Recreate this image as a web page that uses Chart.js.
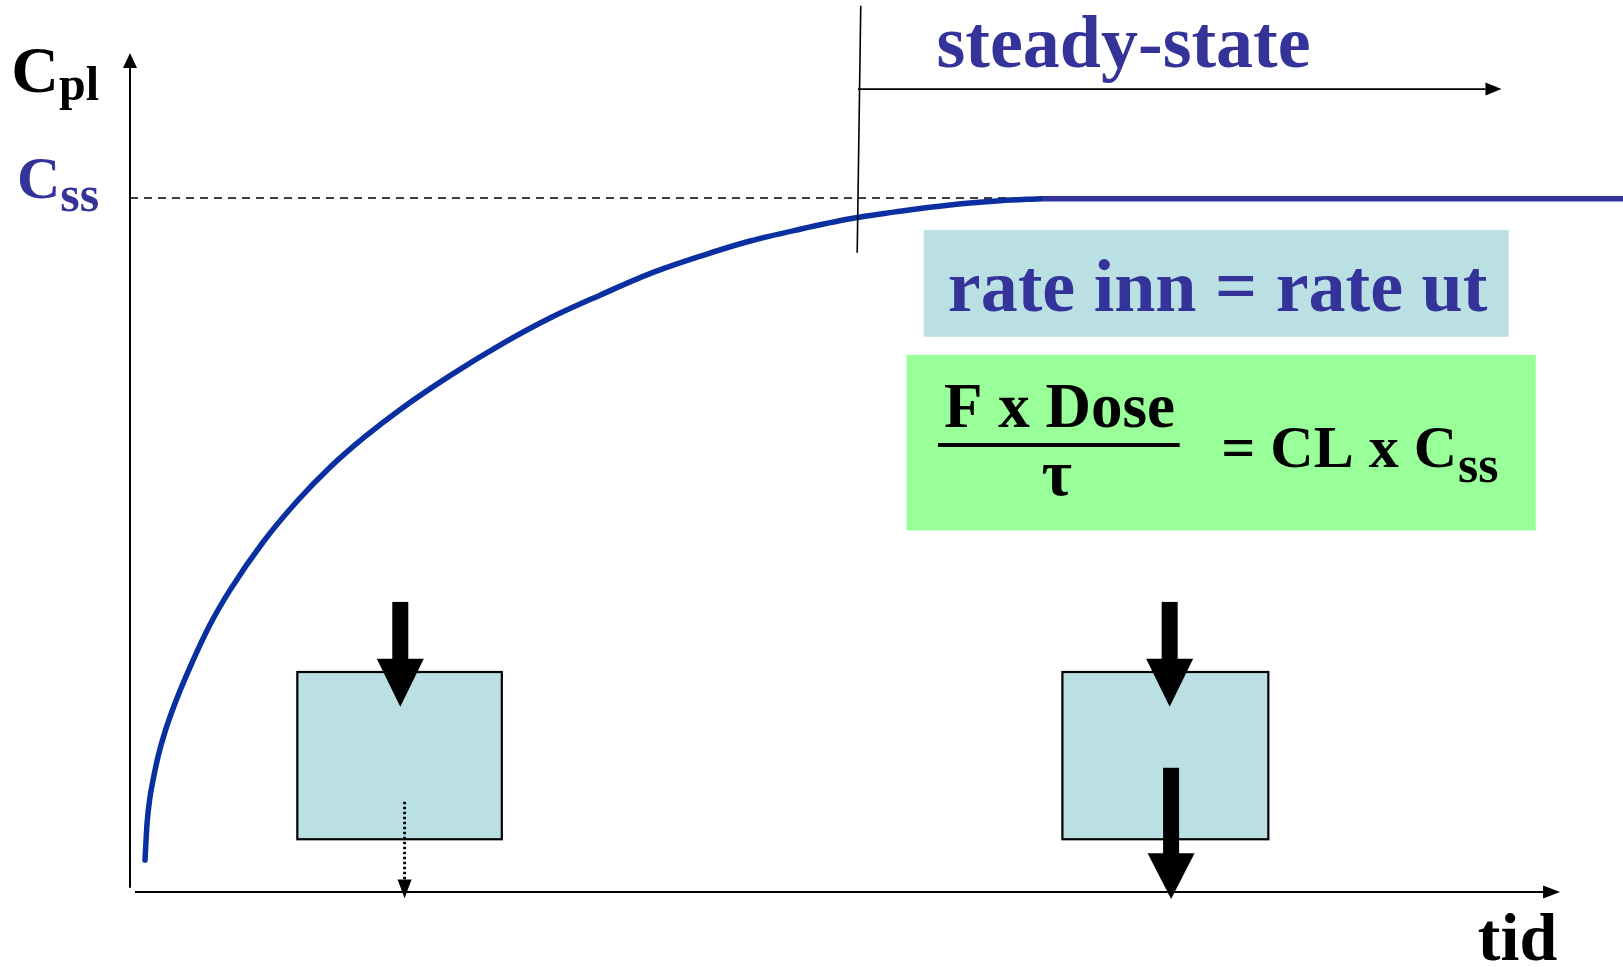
<!DOCTYPE html>
<html>
<head>
<meta charset="utf-8">
<script src="https://cdn.jsdelivr.net/npm/chart.js@4/dist/chart.umd.min.js"></script>
<style>
  html, body { margin: 0; padding: 0; background: #fff; }
  #wrap { position: relative; width: 1623px; height: 967px; }
</style>
</head>
<body>
<div id="wrap"><canvas id="ssChart"></canvas></div>
<script>
// accumulation curve (time units, % of Css)
const timeH = [1.05, 1.19, 1.4, 1.61, 1.96, 2.45, 3.15, 4.2, 5.59, 6.99, 9.3, 11.68, 13.99,
  16.43, 18.88, 22.38, 25.87, 29.37, 32.87, 36.36, 39.86, 43.36, 46.85, 50.35, 53.85,
  57.34, 60.84, 63.64];
const concPct = [4.6, 9.8, 13.7, 16.1, 19.5, 23.1, 27.2, 32.4, 38.5, 43.5, 50.4, 56.3, 61.2,
  65.6, 69.5, 74.4, 78.8, 82.7, 86.0, 89.1, 91.6, 93.8, 95.5, 97.0, 98.1,
  99.0, 99.6, 99.9];
// plateau after steady state is reached
const steadyTime = [63.64, 104.4];
const steadyConc = [99.9, 99.9];
// Css reference level (dashed)
const cssTime = [0, 62];
const cssConc = [100, 100];

const BLUE = "#0a2fa0";
const NAVY = "#333399";
const BOXBLUE = "#bbe0e3";
const GREEN = "#99ff99";
const SERIF = "'Liberation Serif', 'Times New Roman', serif";

function toPoints(xs, ys) {
  return xs.map((x, i) => ({ x: x, y: ys[i] }));
}

// all diagram furniture, placed in data units through the scales
const diagram = {
  id: "diagram",
  beforeDatasetsDraw(chart) {
    const ctx = chart.ctx;
    const X = (t) => chart.scales.x.getPixelForValue(t);
    const Y = (c) => chart.scales.y.getPixelForValue(c);
    ctx.save();
    ctx.strokeStyle = "#000";
    ctx.fillStyle = "#000";
    ctx.lineWidth = 2;
    // y axis
    lineArrow(ctx, X(0), Y(0.6), X(0), Y(120.9), 15, 7);
    // x axis
    lineArrow(ctx, X(0.35), Y(0), X(100), Y(0), 17, 6.5);
    ctx.restore();
  },
  afterDatasetsDraw(chart) {
    const ctx = chart.ctx;
    const X = (t) => chart.scales.x.getPixelForValue(t);
    const Y = (c) => chart.scales.y.getPixelForValue(c);
    ctx.save();

    // steady-state marker and arrow
    ctx.strokeStyle = "#000";
    ctx.fillStyle = "#000";
    ctx.lineWidth = 1.6;
    ctx.beginPath();
    ctx.moveTo(X(51.1), Y(127.7));
    ctx.lineTo(X(50.85), Y(92.1));
    ctx.stroke();
    ctx.lineWidth = 1.8;
    lineArrow(ctx, X(50.9), Y(115.7), X(95.9), Y(115.7), 16, 6.5);
    text(ctx, "steady-state", X(56.4), Y(118.9), 74, NAVY, "left");

    // rate inn = rate ut
    ctx.fillStyle = BOXBLUE;
    ctx.fillRect(X(55.5), Y(95.4), X(96.4) - X(55.5), Y(80.0) - Y(95.4));
    text(ctx, "rate inn = rate ut", X(76.05), Y(83.7), 74, NAVY, "center");

    // F x Dose / tau = CL x Css
    ctx.fillStyle = GREEN;
    ctx.fillRect(X(54.3), Y(77.4), X(98.3) - X(54.3), Y(52.1) - Y(77.4));
    text(ctx, "F x Dose", X(65.0), Y(67.0), 63, "#000", "center");
    ctx.strokeStyle = "#000";
    ctx.lineWidth = 4;
    ctx.beginPath();
    ctx.moveTo(X(56.5), Y(64.4));
    ctx.lineTo(X(73.4), Y(64.4));
    ctx.stroke();
    text(ctx, "τ", X(64.8), Y(57.2), 66, "#000", "center");
    const w = text(ctx, "= CL x C", X(76.3), Y(61.3), 60, "#000", "left");
    text(ctx, "ss", X(76.3) + w + 1, Y(59.1), 52, "#000", "left");

    // compartments
    [[11.7, 26.0], [65.2, 79.6]].forEach(([a, b]) => {
      ctx.fillStyle = BOXBLUE;
      ctx.fillRect(X(a), Y(31.7), X(b) - X(a), Y(7.6) - Y(31.7));
      ctx.strokeStyle = "#000";
      ctx.lineWidth = 2.2;
      ctx.strokeRect(X(a), Y(31.7), X(b) - X(a), Y(7.6) - Y(31.7));
    });

    // dose arrows in, elimination arrows out
    ctx.fillStyle = "#000";
    blockArrow(ctx, X(18.9), Y(41.8), Y(33.6), Y(26.7), 16, 47);
    blockArrow(ctx, X(72.7), Y(41.8), Y(33.6), Y(26.7), 16, 47);
    blockArrow(ctx, X(72.8), Y(17.9), Y(5.6), Y(-1.0), 16, 47);
    ctx.strokeStyle = "#000";
    ctx.lineWidth = 2.8;
    ctx.setLineDash([2.5, 2.5]);
    ctx.beginPath();
    ctx.moveTo(X(19.2), Y(13.0));
    ctx.lineTo(X(19.2), Y(1.2));
    ctx.stroke();
    ctx.setLineDash([]);
    ctx.beginPath();
    ctx.moveTo(X(19.2) - 7, Y(1.8));
    ctx.lineTo(X(19.2) + 7, Y(1.8));
    ctx.lineTo(X(19.2), Y(-0.9));
    ctx.closePath();
    ctx.fill();

    // axis labels
    const cw = text(ctx, "C", X(-8.3), Y(115.3), 66, "#000", "left");
    text(ctx, "pl", X(-8.3) + cw, Y(114.1), 48, "#000", "left");
    const sw = text(ctx, "C", X(-7.9), Y(100), 60, NAVY, "left");
    text(ctx, "ss", X(-7.9) + sw, Y(98.1), 50, NAVY, "left");
    text(ctx, "tid", X(99.8), Y(-9.8), 68, "#000", "right");

    ctx.restore();
  },
};

function text(ctx, s, x, y, size, color, align) {
  ctx.font = "bold " + size + "px " + SERIF;
  ctx.fillStyle = color;
  ctx.textAlign = align;
  ctx.textBaseline = "alphabetic";
  ctx.fillText(s, x, y);
  return ctx.measureText(s).width;
}

function lineArrow(ctx, x1, y1, x2, y2, len, half) {
  const ang = Math.atan2(y2 - y1, x2 - x1);
  const bx = x2 - len * Math.cos(ang);
  const by = y2 - len * Math.sin(ang);
  ctx.beginPath();
  ctx.moveTo(x1, y1);
  ctx.lineTo(bx, by);
  ctx.stroke();
  ctx.beginPath();
  ctx.moveTo(x2, y2);
  ctx.lineTo(bx + half * Math.sin(ang), by - half * Math.cos(ang));
  ctx.lineTo(bx - half * Math.sin(ang), by + half * Math.cos(ang));
  ctx.closePath();
  ctx.fill();
}

// downward fat arrow: shaft from top to headY, tip at tipY
function blockArrow(ctx, x, topY, headY, tipY, shaftW, headW) {
  ctx.fillRect(x - shaftW / 2, topY, shaftW, headY - topY + 1);
  ctx.beginPath();
  ctx.moveTo(x - headW / 2, headY);
  ctx.lineTo(x + headW / 2, headY);
  ctx.lineTo(x, tipY);
  ctx.closePath();
  ctx.fill();
}

new Chart(document.getElementById("ssChart"), {
  type: "line",
  data: {
    datasets: [
      {
        label: "Cpl",
        data: toPoints(timeH, concPct),
        borderColor: BLUE,
        borderWidth: 5.5,
        borderCapStyle: "round",
        pointRadius: 0,
        cubicInterpolationMode: "monotone",
        fill: false,
      },
      {
        label: "steady-state",
        data: toPoints(steadyTime, steadyConc),
        borderColor: NAVY,
        borderWidth: 5.5,
        pointRadius: 0,
        fill: false,
      },
      {
        label: "Css",
        data: toPoints(cssTime, cssConc),
        borderColor: "#000",
        borderWidth: 1.6,
        borderDash: [8, 6],
        pointRadius: 0,
        fill: false,
      },
    ],
  },
  options: {
    responsive: true,
    maintainAspectRatio: false,
    animation: false,
    layout: { padding: { left: 130, right: 0, top: 24.5, bottom: 75 } },
    plugins: {
      legend: { display: false },
      tooltip: { enabled: false },
    },
    scales: {
      x: { type: "linear", min: 0, max: 104.4, display: false },
      y: { type: "linear", min: 0, max: 125, display: false },
    },
  },
  plugins: [diagram],
});
</script>
</body>
</html>
